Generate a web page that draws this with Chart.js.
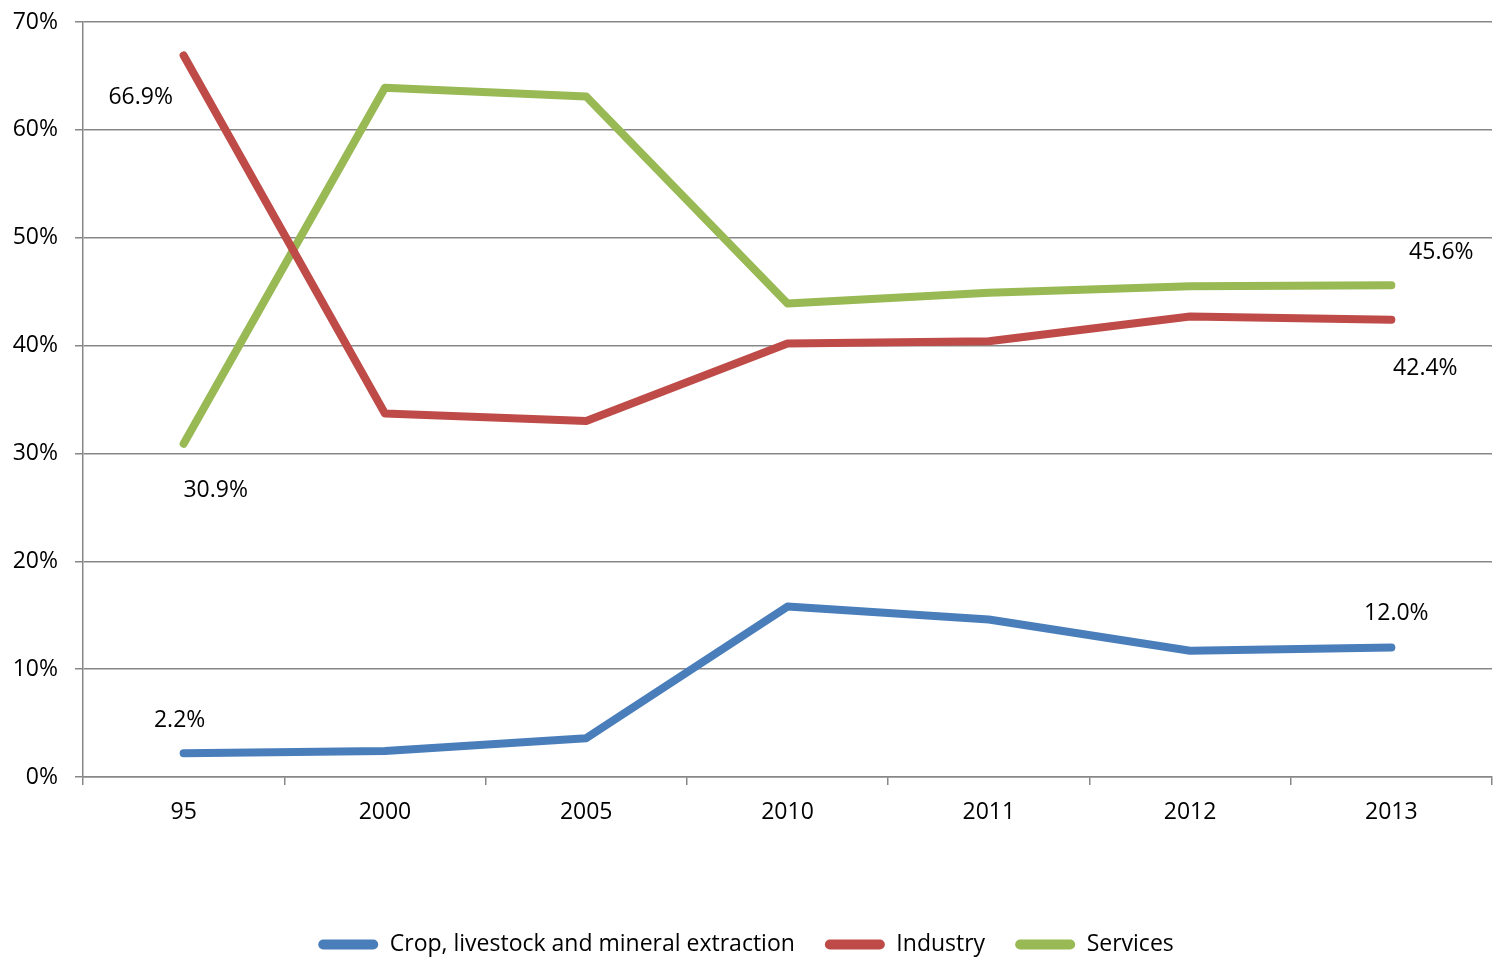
<!DOCTYPE html>
<html>
<head>
<meta charset="utf-8">
<title>Sector shares</title>
<script src="https://cdn.jsdelivr.net/npm/chart.js@4.4.1/dist/chart.umd.min.js"></script>
<style>
    html, body { margin: 0; padding: 0; background: #ffffff; }
    #wrap { width: 1499px; height: 966px; }
</style>
</head>
<body>
<div id="wrap"><canvas id="chart" width="1499" height="966"></canvas></div>
<script>
// categories and series values (percent)
const years = ["95", "2000", "2005", "2010", "2011", "2012", "2013"];
const crop = [2.2, 2.4, 3.6, 15.8, 14.6, 11.7, 12.0];
const industry = [66.9, 33.7, 33.0, 40.2, 40.4, 42.7, 42.4];
const services = [30.9, 63.9, 63.1, 43.9, 44.9, 45.5, 45.6];
const seriesNames = ["Crop, livestock and mineral extraction", "Industry", "Services"];
const yTicks = [0, 10, 20, 30, 40, 50, 60, 70];

const FONT = "'Open Sans', 'Noto Sans', sans-serif";
const gridColor = "#878787";

// value labels: [dataset, point index, dx, dy]
const valueLabels = [
    [1, 0, -43, 42],
    [2, 0, 32, 47],
    [0, 0, -4, -33],
    [0, 6, 5, -34],
    [2, 6, 50, -33],
    [1, 6, 34, 49],
];

const pointLabels = {
    id: "pointLabels",
    afterDatasetsDraw(chart) {
        const ctx = chart.ctx;
        ctx.save();
        ctx.font = "23px " + FONT;
        ctx.fillStyle = "#000";
        ctx.textAlign = "center";
        ctx.textBaseline = "middle";
        valueLabels.forEach(([d, i, dx, dy]) => {
            const pt = chart.getDatasetMeta(d).data[i];
            const v = chart.data.datasets[d].data[i];
            ctx.fillText(v.toFixed(1) + "%", pt.x + dx, pt.y + dy);
        });
        ctx.restore();
    }
};

const makeLine = (label, data, color) => ({
    label,
    data,
    borderColor: color,
    backgroundColor: color,
    borderWidth: 8,
    borderCapStyle: "round",
    borderJoinStyle: "round",
    pointRadius: 0,
    tension: 0,
    fill: false,
});

new Chart(document.getElementById("chart"), {
    type: "line",
    data: {
        labels: years,
        datasets: [
            makeLine(seriesNames[0], crop, "#4A7EBB"),
            makeLine(seriesNames[1], industry, "#BE4B48"),
            makeLine(seriesNames[2], services, "#98B954"),
        ]
    },
    options: {
        responsive: false,
        animation: false,
        layout: { padding: { top: 22, right: 7, bottom: 0, left: 0 } },
        plugins: {
            tooltip: { enabled: false },
            legend: {
                position: "bottom",
                labels: {
                    color: "#000",
                    font: { family: FONT, size: 23 },
                    boxWidth: 60,
                    boxHeight: 10,
                    useBorderRadius: true,
                    borderRadius: 5,
                    padding: 30,
                    generateLabels(chart) {
                        const items = Chart.defaults.plugins.legend.labels.generateLabels(chart);
                        items.forEach(it => { it.lineWidth = 0; });
                        return items;
                    }
                }
            }
        },
        scales: {
            x: {
                offset: true,
                border: { color: gridColor, width: 1.5 },
                grid: { drawOnChartArea: false, offset: true, tickLength: 8, color: gridColor, lineWidth: 1.5 },
                ticks: { color: "#000", font: { family: FONT, size: 23 }, padding: 14, maxRotation: 0 },
                afterFit(scale) { scale.height = 126; }
            },
            y: {
                min: 0,
                max: 70,
                border: { color: gridColor, width: 1.5 },
                grid: { color: gridColor, lineWidth: 1.5, tickLength: 8 },
                afterBuildTicks(scale) { scale.ticks = yTicks.map(v => ({ value: v })); },
                ticks: {
                    color: "#000",
                    font: { family: FONT, size: 23 },
                    padding: 17,
                    callback: v => v + "%"
                },
                afterFit(scale) {
                    scale.width = 83;
                    // keep the tick padding horizontal only
                    scale.paddingTop = 0;
                    scale.paddingBottom = 0;
                }
            }
        }
    },
    plugins: [pointLabels]
});
</script>
</body>
</html>
